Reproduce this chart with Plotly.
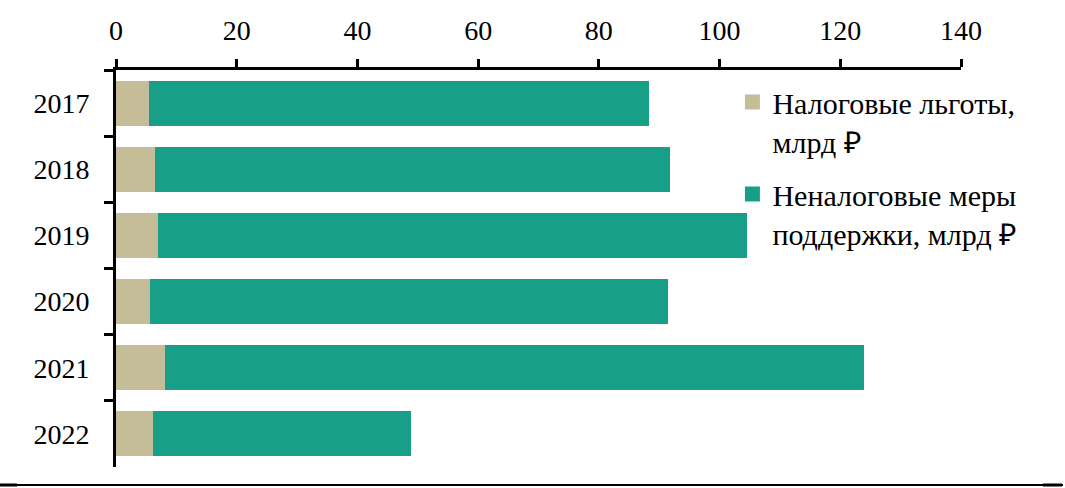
import plotly.graph_objects as go

years = ["2017", "2018", "2019", "2020", "2021", "2022"]
tax_benefits = [5.5, 6.5, 7.0, 5.6, 8.1, 6.1]
non_tax_support = [82.8, 85.3, 97.5, 85.9, 115.9, 42.8]

series_names = ["Налоговые льготы,<br>млрд ₽", "Неналоговые меры<br>поддержки, млрд ₽"]
colors = ["#C5BD98", "#17A087"]

x_ticks = [0, 20, 40, 60, 80, 100, 120, 140]

FONT = "Liberation Serif"
FS = 28
LFS = 30

fig = go.Figure()
for vals, name, col in zip([tax_benefits, non_tax_support], series_names, colors):
    fig.add_trace(go.Bar(
        y=years, x=vals, orientation="h", name=name,
        marker=dict(color=col, line=dict(width=0)),
        showlegend=False,
    ))
for i, (name, col) in enumerate(zip(series_names, colors)):
    fig.add_trace(go.Scatter(
        x=[None], y=[None], mode="markers", name=name,
        marker=dict(symbol="square", size=15, color=col),
        legendgroup=f"g{i}", showlegend=True,
    ))

# decorative rule at the bottom of the figure (paper coordinates)
W, L, R = 1065, 116, 104
PW = W - L - R
def px(xp):
    return (xp - L) / PW
yb = -18 / 397

fig.update_layout(
    width=1065, height=488,
    barmode="stack", bargap=0.32,
    paper_bgcolor="white", plot_bgcolor="white",
    margin=dict(l=L, r=R, t=70, b=21, autoexpand=False),
    font=dict(family=FONT, size=FS, color="black"),
    showlegend=True,
    legend=dict(
        x=0.7295, y=0.985, xanchor="left", yanchor="top",
        bgcolor="rgba(0,0,0,0)", valign="top",
        traceorder="grouped", tracegroupgap=11,
        font=dict(family=FONT, size=LFS, color="black"),
        itemwidth=30,
    ),
    xaxis=dict(
        side="top", range=[0, 140], tickvals=x_ticks,
        ticks="outside", ticklen=8, tickwidth=3, tickcolor="black",
        showline=True, linewidth=3, linecolor="black",
        showgrid=False, zeroline=False, automargin=False,
        tickfont=dict(family=FONT, size=FS, color="black"),
        ticklabelstandoff=8,
    ),
    yaxis=dict(
        autorange="reversed", type="category",
        ticks="outside", tickson="boundaries", ticklen=9, tickwidth=3, tickcolor="black",
        showline=True, linewidth=3, linecolor="black",
        showgrid=False, zeroline=False, automargin=False,
        tickfont=dict(family=FONT, size=FS, color="black"),
        ticklabelstandoff=18,
    ),
    shapes=[
        dict(type="line", xref="paper", yref="paper",
             x0=px(0), x1=px(1063), y0=yb, y1=yb,
             line=dict(color="black", width=2)),
        dict(type="line", xref="paper", yref="paper",
             x0=px(0), x1=px(17), y0=yb, y1=yb,
             line=dict(color="black", width=3)),
        dict(type="line", xref="paper", yref="paper",
             x0=px(1043), x1=px(1062), y0=yb, y1=yb,
             line=dict(color="black", width=3)),
    ],
)

fig.write_html("out.html", post_script="document.body.style.margin='0';",
               config={"displayModeBar": False})
